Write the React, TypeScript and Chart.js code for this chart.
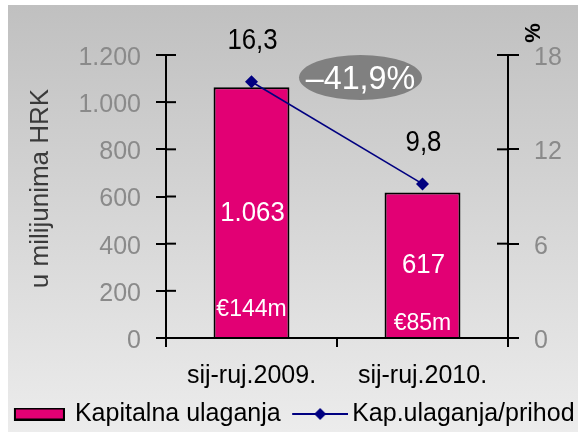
import { useEffect, useRef } from 'react';
import { Chart, registerables } from 'chart.js';

Chart.register(...registerables);

// ---------- data ----------
const categories = ['sij-ruj.2009.', 'sij-ruj.2010.'];
const capexValues = [1063, 617];
const capexEurLabels = ['€144m', '€85m'];
const ratioValues = [16.3, 9.8];
const ratioChangeLabel = '–41,9%';
const seriesNames = ['Kapitalna ulaganja', 'Kap.ulaganja/prihod'];
const leftAxisTitle = 'u milijunima HRK';
const rightAxisTitle = '%';
const leftAxisRange = [0, 1200, 200];
const rightAxisRange = [0, 18, 6];

// ---------- styles ----------
const FONT = '"Liberation Sans", Arial, Helvetica, sans-serif';
const MAGENTA = '#E20074';
const NAVY = '#000080';
const TICK_GREY = '#8a8a8a';
const EUR_LABEL_LIFT = [27, 13];

const fmtThousands = (n: number) => String(Math.round(n)).replace(/\B(?=(\d{3})+(?!\d))/g, '.');
const fmtDecimal = (n: number) => String(n).replace('.', ',');

function drawText(ctx: CanvasRenderingContext2D, text: string, x: number, y: number, font: string, color: string, scaleX = 1) {
  ctx.save();
  ctx.translate(x, y);
  ctx.scale(scaleX, 1);
  ctx.font = font;
  ctx.fillStyle = color;
  ctx.textAlign = 'center';
  ctx.textBaseline = 'middle';
  ctx.fillText(text, 0, 0);
  ctx.restore();
}

function makeBarSwatch() {
  const c = document.createElement('canvas');
  c.width = 57;
  c.height = 13;
  const g = c.getContext('2d')!;
  g.fillStyle = MAGENTA;
  g.fillRect(6, 0, 51, 13);
  g.strokeStyle = '#000';
  g.lineWidth = 2;
  g.strokeRect(7, 1, 49, 11);
  return c;
}

function makeLineSwatch() {
  const c = document.createElement('canvas');
  c.width = 69;
  c.height = 14;
  const g = c.getContext('2d')!;
  g.strokeStyle = NAVY;
  g.lineWidth = 2;
  g.beginPath();
  g.moveTo(13, 7);
  g.lineTo(69, 7);
  g.stroke();
  g.fillStyle = NAVY;
  g.beginPath();
  g.moveTo(41, 1);
  g.lineTo(47, 7);
  g.lineTo(41, 13);
  g.lineTo(35, 7);
  g.closePath();
  g.fill();
  return c;
}

const backgroundPlugin = {
  id: 'bgGradient',
  beforeDraw(chart: any) {
    const ctx = chart.ctx;
    ctx.save();
    const grad = ctx.createLinearGradient(0, 5, 0, 432);
    grad.addColorStop(0, '#c0c0c0');
    grad.addColorStop(1, '#ececec');
    ctx.fillStyle = grad;
    ctx.fillRect(8, 5, 570, 427);
    ctx.restore();
  },
};

const decorPlugin = {
  id: 'decor',
  afterDraw(chart: any) {
    const ctx = chart.ctx;
    const area = chart.chartArea;
    const y = chart.scales.y;
    const y2 = chart.scales.y2;
    ctx.save();
    // inner halves of crossing ticks
    ctx.strokeStyle = '#000';
    ctx.lineWidth = 2;
    y.ticks.forEach((t: any) => {
      const py = y.getPixelForValue(t.value);
      ctx.beginPath();
      ctx.moveTo(area.left, py);
      ctx.lineTo(area.left + 10, py);
      ctx.stroke();
    });
    y2.ticks.forEach((t: any) => {
      const py = y2.getPixelForValue(t.value);
      ctx.beginPath();
      ctx.moveTo(area.right - 11, py);
      ctx.lineTo(area.right, py);
      ctx.stroke();
    });

    // bar labels
    const barMeta = chart.getDatasetMeta(0);
    barMeta.data.forEach((el: any, i: number) => {
      const p = el.getProps(['x', 'y', 'base'], true);
      drawText(ctx, fmtThousands(capexValues[i]), p.x + 1, (p.y + p.base) / 2 + 1, `28px ${FONT}`, '#fff', 0.92);
      drawText(ctx, capexEurLabels[i], p.x, p.base - EUR_LABEL_LIFT[i], `23px ${FONT}`, '#fff');
    });

    // line labels
    const lineMeta = chart.getDatasetMeta(1);
    lineMeta.data.forEach((el: any, i: number) => {
      drawText(ctx, fmtDecimal(ratioValues[i]), el.x + 1, el.y - 41, `29px ${FONT}`, '#000', 0.89);
    });

    // change ellipse
    const p0 = lineMeta.data[0];
    const p1 = lineMeta.data[1];
    const ex = (p0.x + p1.x) / 2 + 23.5;
    const ey = area.top + 22.5;
    ctx.fillStyle = '#808080';
    ctx.beginPath();
    ctx.ellipse(ex, ey, 61.5, 22.5, 0, 0, Math.PI * 2);
    ctx.fill();
    drawText(ctx, ratioChangeLabel, ex, ey + 2, `34px ${FONT}`, '#fff', 0.95);

    // left axis title
    ctx.save();
    ctx.translate(41, 188.5);
    ctx.rotate(-Math.PI / 2);
    ctx.fillStyle = '#3a3a3a';
    ctx.font = `26px ${FONT}`;
    ctx.textAlign = 'center';
    ctx.textBaseline = 'middle';
    ctx.fillText(leftAxisTitle, 0, 0);
    ctx.restore();

    // right axis title
    ctx.save();
    ctx.translate(area.right + 26, area.top - 22);
    ctx.rotate(-Math.PI / 2);
    ctx.fillStyle = '#000';
    ctx.font = `bold 22px ${FONT}`;
    ctx.textAlign = 'center';
    ctx.textBaseline = 'middle';
    ctx.fillText(rightAxisTitle, 0, 0);
    ctx.restore();

    ctx.restore();
  },
};

export default function App() {
  const ref = useRef<HTMLCanvasElement | null>(null);

  useEffect(() => {
    document.body.style.margin = '0';
    const canvas = ref.current!;
    const barSwatch = makeBarSwatch();
    const lineSwatch = makeLineSwatch();

    const chart = new Chart(canvas, {
      type: 'bar',
      data: {
        labels: categories,
        datasets: [
          {
            type: 'bar',
            label: seriesNames[0],
            data: capexValues,
            yAxisID: 'y',
            backgroundColor: MAGENTA,
            borderColor: '#000',
            borderWidth: 2,
            barPercentage: 0.444,
            categoryPercentage: 1,
            order: 2,
          },
          {
            type: 'line',
            label: seriesNames[1],
            data: ratioValues,
            yAxisID: 'y2',
            borderColor: NAVY,
            borderWidth: 1.6,
            pointStyle: 'rectRot',
            pointRadius: 6.5,
            pointBackgroundColor: NAVY,
            pointBorderColor: NAVY,
            pointBorderWidth: 0,
            order: 1,
          } as any,
        ],
      },
      options: {
        responsive: false,
        animation: false,
        events: [],
        font: { family: FONT },
        layout: { padding: { top: 55, left: 0, right: 0, bottom: 0 } },
        plugins: {
          tooltip: { enabled: false },
          legend: {
            position: 'bottom',
            align: 'center',
            maxHeight: 37.5,
            labels: {
              usePointStyle: true,
              pointStyleWidth: 52,
              padding: 7,
              color: '#000',
              font: { family: FONT, size: 25 },
              generateLabels: () => [
                { text: seriesNames[0], pointStyle: barSwatch as any, fontColor: '#000', hidden: false, datasetIndex: 0, lineWidth: 0 },
                { text: seriesNames[1], pointStyle: lineSwatch as any, fontColor: '#000', hidden: false, datasetIndex: 1, lineWidth: 0 },
              ],
            },
          },
        },
        scales: {
          x: {
            offset: true,
            grid: { display: true, drawOnChartArea: false, drawTicks: true, tickLength: 9, color: '#000', lineWidth: 2, offset: true },
            border: { display: true, color: '#000', width: 2 },
            ticks: { color: '#000', font: { family: FONT, size: 25 }, padding: 14, maxRotation: 0, autoSkip: false },
            afterFit: (s: any) => { s.height = 56.5; },
          },
          y: {
            position: 'left',
            min: leftAxisRange[0],
            max: leftAxisRange[1],
            grid: { drawOnChartArea: false, drawTicks: true, tickLength: 10, color: '#000', lineWidth: 2 },
            border: { display: true, color: '#000', width: 2 },
            ticks: {
              stepSize: leftAxisRange[2],
              color: TICK_GREY,
              font: { family: FONT, size: 25 },
              padding: 15,
              labelOffset: 3,
              callback: (v: any) => fmtThousands(Number(v)),
            },
            afterFit: (s: any) => { s.width = 166; },
          },
          y2: {
            position: 'right',
            min: rightAxisRange[0],
            max: rightAxisRange[1],
            grid: { drawOnChartArea: false, drawTicks: true, tickLength: 11, color: '#000', lineWidth: 2 },
            border: { display: true, color: '#000', width: 2 },
            ticks: {
              stepSize: rightAxisRange[2],
              color: TICK_GREY,
              font: { family: FONT, size: 25 },
              padding: 15,
              labelOffset: 3,
              callback: (v: any) => String(v),
            },
            afterFit: (s: any) => { s.width = 77; },
          },
        },
      },
      plugins: [backgroundPlugin, decorPlugin],
    });

    return () => chart.destroy();
  }, []);

  return (
    <div style={{ width: 585, height: 432 }}>
      <canvas ref={ref} width={585} height={432} style={{ display: 'block', width: 585, height: 432 }} />
    </div>
  );
}
